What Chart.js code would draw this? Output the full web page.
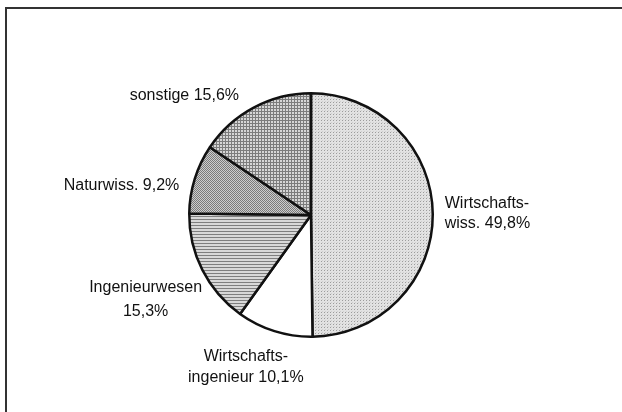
<!DOCTYPE html>
<html>
<head>
<meta charset="utf-8">
<script src="https://cdn.jsdelivr.net/npm/chart.js@4/dist/chart.umd.min.js"></script>
<style>
  html, body { margin: 0; padding: 0; background: #fff; }
  #wrap { width: 622px; height: 412px; }
</style>
</head>
<body>
<div id="wrap"><canvas id="pie" width="622" height="412"></canvas></div>
<script>
// Fächer (Uhrzeigersinn ab 12 Uhr)
var categories = ["Wirtschaftswiss.", "Wirtschaftsingenieur", "Ingenieurwesen", "Naturwiss.", "sonstige"];
var shares = [49.8, 10.1, 15.3, 9.2, 15.6];
var labelLines = [
	["Wirtschafts-", "wiss. 49,8%"],
	["Wirtschafts-", "ingenieur 10,1%"],
	["Ingenieurwesen", "15,3%"],
	["Naturwiss. 9,2%"],
	["sonstige 15,6%"]
];

// small tiles for the print-like fills
function makePattern(size, draw) {
	var c = document.createElement("canvas");
	c.width = size;
	c.height = size;
	var g = c.getContext("2d");
	draw(g, size);
	return g.createPattern(c, "repeat");
}

var pctx = document.getElementById("pie").getContext("2d");

var dotsLight = makePattern(3, function (g) {
	g.fillStyle = "#e2e2e2";
	g.fillRect(0, 0, 3, 3);
	g.fillStyle = "#9c9c9c";
	g.fillRect(0, 0, 1, 1);
	g.fillStyle = "#cfcfcf";
	g.fillRect(1, 2, 1, 1);
});
var plain = "#ffffff";
var hLines = makePattern(3, function (g) {
	g.fillStyle = "#d8d8d8";
	g.fillRect(0, 0, 3, 3);
	g.fillStyle = "#7e7e7e";
	g.fillRect(0, 0, 3, 1);
});
var denseDots = makePattern(2, function (g) {
	g.fillStyle = "#cdcdcd";
	g.fillRect(0, 0, 2, 2);
	g.fillStyle = "#7a7a7a";
	g.fillRect(0, 0, 1, 1);
	g.fillRect(1, 1, 1, 1);
});
var grid = makePattern(3, function (g) {
	g.fillStyle = "#d6d6d6";
	g.fillRect(0, 0, 3, 3);
	g.fillStyle = "#7c7c7c";
	g.fillRect(0, 0, 3, 1);
	g.fillRect(0, 0, 1, 3);
});

// where each label sits relative to the point just outside its slice
var placement = [
	{ align: "left", dx: 0, dy: -11, lh: 20 },
	{ align: "center", dx: -25, dy: 14, lh: 21 },
	{ align: "center", dx: -46, dy: 12, lh: 24 },
	{ align: "right", dx: -4, dy: 10, lh: 20 },
	{ align: "right", dx: -9, dy: -1, lh: 20 }
];

var framePlugin = {
	id: "frame",
	beforeDraw: function (chart) {
		var ctx = chart.ctx;
		ctx.save();
		ctx.fillStyle = "#ffffff";
		ctx.fillRect(0, 0, chart.width, chart.height);
		ctx.strokeStyle = "#333333";
		ctx.lineWidth = 2;
		ctx.strokeRect(6, 8, chart.width + 20, chart.height + 20);
		ctx.restore();
	}
};

var labelPlugin = {
	id: "sliceLabels",
	afterDraw: function (chart) {
		var ctx = chart.ctx;
		var arcs = chart.getDatasetMeta(0).data;
		ctx.save();
		ctx.font = "16px 'Liberation Sans', Arial, sans-serif";
		ctx.fillStyle = "#111111";
		ctx.textBaseline = "middle";
		arcs.forEach(function (arc, i) {
			var p = arc.getProps(["x", "y", "startAngle", "endAngle", "outerRadius"], true);
			var mid = (p.startAngle + p.endAngle) / 2;
			var r = p.outerRadius + 12;
			var x = p.x + Math.cos(mid) * r + placement[i].dx;
			var y = p.y + Math.sin(mid) * r + placement[i].dy;
			ctx.textAlign = placement[i].align;
			labelLines[i].forEach(function (line, k) {
				ctx.fillText(line, x, y + k * placement[i].lh);
			});
		});
		ctx.restore();
	}
};

new Chart(pctx, {
	type: "pie",
	data: {
		labels: categories,
		datasets: [
			{
				data: shares,
				backgroundColor: [dotsLight, plain, hLines, denseDots, grid],
				borderColor: "#111111",
				borderWidth: 2.5,
				hoverOffset: 0,
			},
		],
	},
	options: {
		responsive: false,
		animation: false,
		layout: { padding: { top: 92, bottom: 74, left: 0, right: 0 } },
		plugins: {
			legend: { display: false },
			tooltip: { enabled: false },
		},
	},
	plugins: [framePlugin, labelPlugin],
});
</script>
</body>
</html>
